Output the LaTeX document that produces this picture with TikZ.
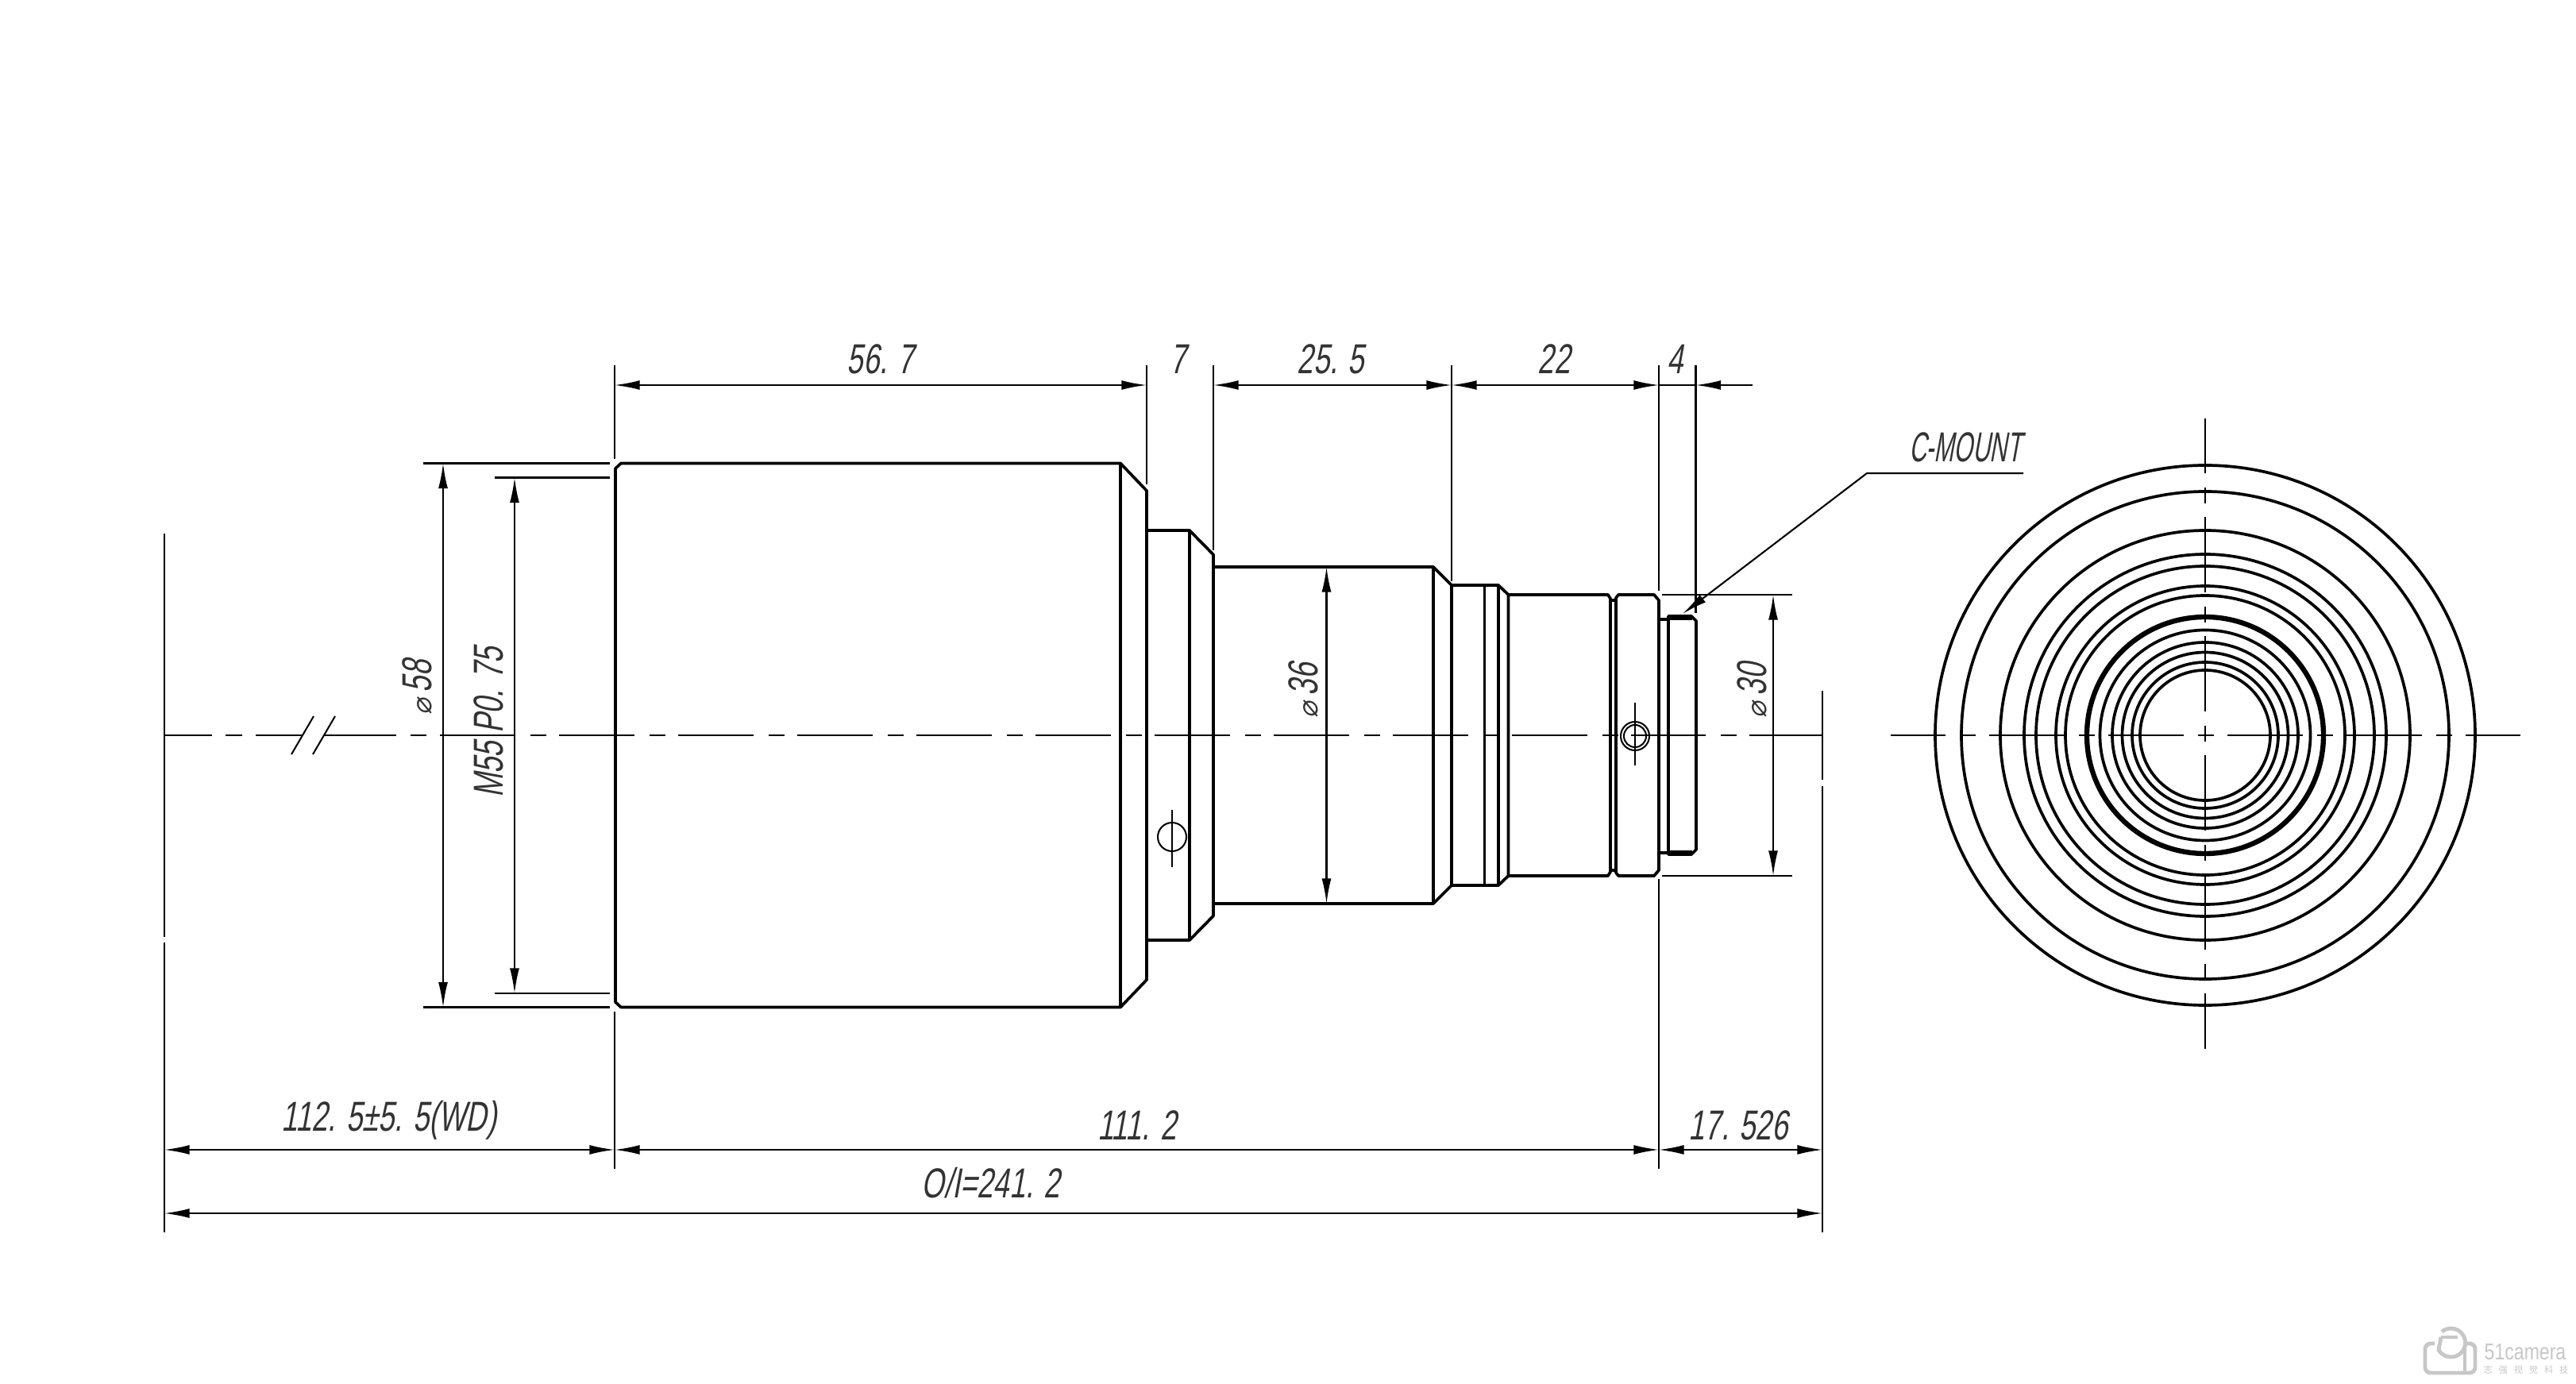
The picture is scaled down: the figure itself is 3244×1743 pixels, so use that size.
\documentclass[tikz,border=0pt]{standalone}
\usepackage{fontspec}
\setmainfont[FakeStretch=0.69,FakeSlant=0.18]{Liberation Sans}
\newfontfamily\narrowfont[FakeStretch=0.57,FakeSlant=0.18]{Liberation Sans}
\newfontfamily\diafont[FakeSlant=0.18]{DejaVu Sans}
\newfontfamily\logofont[FakeStretch=0.8]{Liberation Sans}
\newfontfamily\cjkfont[LetterSpace=70]{Noto Sans CJK SC}
\usetikzlibrary{arrows.meta}

\newcommand{\dia}{{\diafont\fontsize{10}{10}\selectfont ⌀}\hspace{2pt}}

\tikzset{
    outline/.style={line width=1.05pt, line join=round},
    thin line/.style={line width=0.58pt},
    dim/.style={line width=0.6pt, <->},
    label/.style={inner sep=0pt, text=black!80, font=\fontsize{15}{18}\selectfont},
    centerline/.style={line width=0.6pt, dash pattern=on 27pt off 5.4pt on 5.69pt off 4.55pt},
    crossline/.style={line width=0.6pt, dash pattern=on 27.03pt off 5.12pt on 5.69pt off 4.84pt, dash phase=7.4pt},
    ring/.style={line width=1.05pt},
    logo/.style={draw=black!22, line width=1.4pt}
}

\begin{document}
\begin{tikzpicture}[x=0.01cm, y=-0.01cm, >={Latex[length=9pt,width=3.4pt]}]

        \useasboundingbox (0,0) rectangle (3244,1743);

        % axis of the side view
        \draw[thin line] (207,926) -- (267,926);
        \draw[thin line] (284,926) -- (305,926);
        \draw[thin line] (322,926) -- (380,926);
        \draw[thin line] (408,926) -- (499,926);
        \draw[thin line] (517,926) -- (537,926);
        \draw[thin line] (367,950) -- (395,902);
        \draw[thin line] (394,950) -- (422,902);
        \draw[centerline] (554,926) -- (2295,926);

        % lens body
        \draw[outline] (775,590) -- (782,583.5) -- (1411,583.5) -- (1444,618) -- (1444,1234) -- (1411,1268.5) -- (782,1268.5) -- (775,1262) -- cycle;
        \draw[outline] (1411,583.5) -- (1411,1268.5);
        \draw[outline] (1444,668) -- (1498,668) -- (1528,698.5) -- (1528,1153.5) -- (1498,1184) -- (1444,1184);
        \draw[outline] (1498,668) -- (1498,1184);
        \draw[outline] (1528,714) -- (1805,714) -- (1828,737) -- (1828,1115) -- (1805,1138) -- (1528,1138);
        \draw[outline] (1805,714) -- (1805,1138);
        \draw[outline] (1828,737) -- (1887,737) -- (1899.5,749) -- (1899.5,1103) -- (1887,1115) -- (1828,1115);
        \draw[outline] (1869.5,737) -- (1869.5,1115);
        \draw[outline] (1887,737) -- (1887,1115);
        \draw[outline] (1899.5,749) -- (2025,749) -- (2028,754) -- (2028,1098) -- (2025,1103) -- (1899.5,1103);
        \draw[outline] (2028,756) -- (2035,756);
        \draw[outline] (2028,1096) -- (2035,1096);
        \draw[outline] (2035,753) -- (2038,749) -- (2083,749) -- (2089,756) -- (2089,1096) -- (2083,1103) -- (2038,1103) -- (2035,1099) -- cycle;
        \draw[outline] (2089,780) -- (2101,780);
        \draw[outline] (2089,1074) -- (2101,1074);
        \draw[outline] (2101,776) -- (2130,776) -- (2136,782) -- (2136,1070) -- (2130,1076) -- (2101,1076) -- cycle;
        \draw[line width=1.9pt] (2101,778) -- (2131,778);
        \draw[line width=1.9pt] (2101,1074) -- (2131,1074);

        % pins
        \draw[thin line] (1476,1054) circle (18);
        \draw[thin line] (1476,1020) -- (1476,1092);
        \draw[thin line] (2059,927) circle (18);
        \draw[thin line] (2059,927) circle (14);
        \draw[thin line] (2059,885) -- (2059,964);

        % extension lines
        \draw[thin line] (774,460) -- (774,578);
        \draw[thin line] (774,1274) -- (774,1472);
        \draw[thin line] (1444,460) -- (1444,610);
        \draw[thin line] (1528,460) -- (1528,693);
        \draw[thin line] (1828,460) -- (1828,732);
        \draw[thin line] (2089,460) -- (2089,744);
        \draw[thin line] (2135.5,460) -- (2135.5,772);
        \draw[thin line] (2089,1107) -- (2089,1472);
        \draw[thin line] (533,583.5) -- (768,583.5);
        \draw[thin line] (533,1268.5) -- (768,1268.5);
        \draw[thin line] (623,601.5) -- (768,601.5);
        \draw[thin line] (623,1251) -- (768,1251);
        \draw[thin line] (2093,749) -- (2257,749);
        \draw[thin line] (2093,1103) -- (2257,1103);
        \draw[thin line] (207,672) -- (207,1180);
        \draw[thin line] (207,1187) -- (207,1552);
        \draw[thin line] (2295,870) -- (2295,982);
        \draw[thin line] (2295,990) -- (2295,1552);

        % dimensions
        \draw[dim] (774,485) -- (1444,485);
        \draw[dim] (1528,485) -- (1828,485);
        \draw[dim] (1828,485) -- (2089,485);
        \draw[thin line] (2089,485) -- (2135.5,485);
        \draw[dim, <-] (2135.5,485) -- (2207,485);
        \draw[dim] (558,583.5) -- (558,1268.5);
        \draw[dim] (648,601.5) -- (648,1251);
        \draw[dim] (1670.5,714) -- (1670.5,1138);
        \draw[dim] (2233,749) -- (2233,1103);
        \draw[dim] (207,1448) -- (774,1448);
        \draw[dim] (774,1448) -- (2089,1448);
        \draw[dim] (2089,1448) -- (2295,1448);
        \draw[dim] (207,1528) -- (2295,1528);
        \draw[dim, <-] (2119,773) -- (2351,596) -- (2548,596);

        \node[label] (l567) at (1109,452) {56. 7};
        \node[label] (l7) at (1484,452) {7};
        \node[label] (l255) at (1676,452) {25. 5};
        \node[label] (l22) at (1957,452) {22};
        \node[label] (l4) at (2110,452) {4};
        \node[label, rotate=90] (l58) at (525,866) {\dia 58};
        \node[label, rotate=90] (lm55) at (615,910) {M55 P0. 75};
        \node[label, rotate=90] (l36) at (1641,870) {\dia 36};
        \node[label, rotate=90] (l30) at (2206,870) {\dia 30};
        \node[label, font=\narrowfont\fontsize{15}{18}\selectfont] (lmount) at (2475,563) {C-MOUNT};
        \node[label] (lwd) at (490,1411) {112. 5±5. 5(WD)};
        \node[label] (l1112) at (1432,1417) {111. 2};
        \node[label] (l17) at (2189,1417) {17. 526};
        \node[label] (loi) at (1248,1490) {O/I=241. 2};

        % front view
        \foreach \r in {340,307,258,228,213,188,176,132.5,117,104.5,92,82} {
            \draw[ring] (2777,926) circle (\r);
        }
        \draw[line width=1.8pt] (2777,926) circle (149);
        \draw[crossline] (2381,926) -- (3174,926);
        \draw[crossline] (2777,527) -- (2777,1321);

        % watermark
        \draw[logo, rounded corners=2pt] (3066,1692) -- (3054,1692) -- (3054,1729) -- (3117,1729) -- (3117,1692) -- (3104,1692);
        \draw[logo] (3074,1684) -- (3095,1684);
        \draw[logo] (3074,1684) -- (3071,1700) arc (150:-130:18);
        \draw[logo] (3104,1686) -- (3104,1729);
        \node[inner sep=0pt, text=black!22, font=\logofont\fontsize{8.2}{9}\selectfont] (lcamera) at (3180,1703) {51camera};
        \node[inner sep=0pt, text=black!22, font=\cjkfont\fontsize{3.2}{4}\selectfont] (lcjk) at (3181,1725) {志强视觉科技};

    \end{tikzpicture}
\end{document}
